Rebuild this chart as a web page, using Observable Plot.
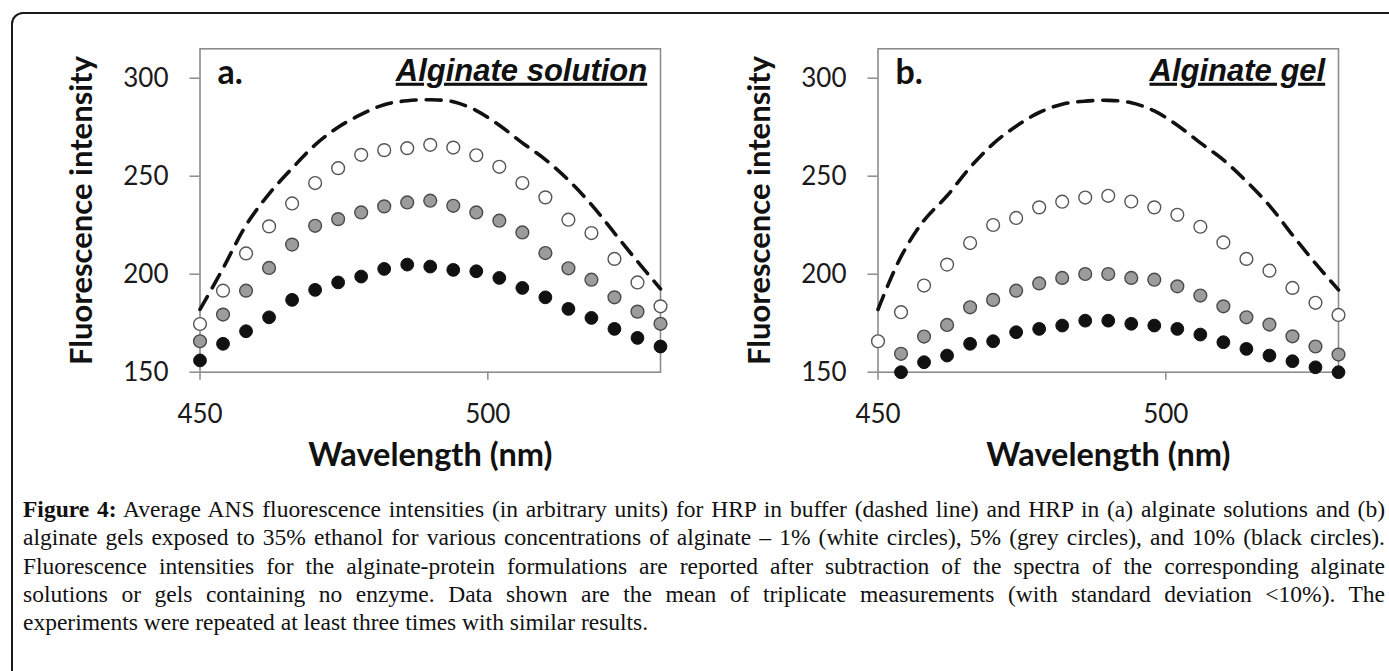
<!DOCTYPE html>
<html><head><meta charset="utf-8">
<script src="https://cdn.jsdelivr.net/npm/d3@7"></script>
<script src="https://cdn.jsdelivr.net/npm/@observablehq/plot@0.6"></script>
<style>
body{margin:0;background:#fff;}
#page{position:relative;width:1389px;height:671px;overflow:hidden;background:#fff;}
#box{position:absolute;left:11px;top:12px;width:1420px;height:720px;border:2px solid #1a1a1a;border-radius:12px;box-sizing:border-box;}
.panel{position:absolute;top:0;}
#caption{position:absolute;left:23px;top:495px;width:1363px;font-family:"Liberation Serif","Times New Roman",serif;font-size:23.5px;line-height:28.35px;color:#111;}
#caption .ln{white-space:nowrap;display:block;}
#caption .ln span.t{display:inline-block;white-space:nowrap;}
</style></head>
<body><div id="page"><div id="box"></div>
<div id="pa" class="panel" style="left:0px"></div>
<div id="pb" class="panel" style="left:678px"></div>
<div id="caption"></div>
</div>
<script>
// ---- data ----
const wavelengths = [450,454,458,462,466,470,474,478,482,486,490,494,498,502,506,510,514,518,522,526,530];
const xTicks = [450, 500];
const yTicks = [150, 200, 250, 300];

// Panel a: alginate solution
const bufferA = [182,203,225,241,254,266,275,281.5,286.5,288.5,289,288,283.5,276,267,258.5,248,235.5,221,206.5,192.5];
const whiteA  = [174.6,191.6,210.6,224.4,236.1,246.5,254.1,260.9,263.3,264.3,266.0,264.6,260.7,254.8,246.5,239.2,227.8,221.0,207.8,195.8,183.6];
const greyA   = [165.8,179.4,191.6,203.2,215.1,224.7,228.1,231.5,234.6,236.6,237.5,234.9,231.5,227.3,221.3,210.8,203.0,197.2,188.2,180.9,174.7];
const blackA  = [156.0,164.5,170.9,178.0,186.9,192.0,195.8,198.8,202.7,204.9,203.9,202.2,201.5,198.1,193.0,188.2,182.3,177.7,172.1,167.5,163.1];

// Panel b: alginate gel
const bufferB = [182,209,227.5,240,254.5,266.5,275.5,282.5,286.7,288.3,288.7,287.5,283.3,276,267,258.3,247.4,235,220,205.5,192];
const whiteB  = [165.8,180.6,194.2,204.9,215.9,225.1,228.7,234.1,237.0,239.1,240.0,237.1,234.1,230.3,224.2,216.2,207.8,201.8,193.0,185.4,179.2];
const greyB   = [null,159.4,168.2,174.1,183.1,186.9,191.6,195.3,198.1,200.1,200.1,198.1,197.2,193.8,189.1,183.6,178.0,174.3,168.3,163.1,159.0];
const blackB  = [null,150.0,155.1,158.5,164.5,165.8,170.4,172.1,173.8,176.3,176.3,174.7,173.8,172.1,169.2,165.3,161.9,158.5,155.6,152.5,150.0];

const yLabel = "Fluorescence intensity";
const xLabel = "Wavelength (nm)";

const captionLines = [
  ["Figure 4:", " Average ANS fluorescence intensities (in arbitrary units) for HRP in buffer (dashed line) and HRP in (a) alginate solutions and (b)"],
  ["", "alginate gels exposed to 35% ethanol for various concentrations of alginate \u2013 1% (white circles), 5% (grey circles), and 10% (black circles)."],
  ["", "Fluorescence intensities for the alginate-protein formulations are reported after subtraction of the spectra of the corresponding alginate"],
  ["", "solutions or gels containing no enzyme. Data shown are the mean of triplicate measurements (with standard deviation <10%). The"],
  ["", "experiments were repeated at least three times with similar results."]
];

function rows(vals) {
  return wavelengths.map((w, i) => ({w, v: vals[i]})).filter(d => d.v != null);
}

function panel(letter, title, buffer, white, grey, black) {
  const svg = Plot.plot({
    width: 680, height: 482,
    marginLeft: 199.5, marginRight: 20, marginTop: 48.3, marginBottom: 110.3,
    x: {domain: [450, 530]},
    y: {domain: [150, 315]},
    style: {fontFamily: "Lato, 'Open Sans', sans-serif", color: "#1a1a1a", background: "transparent", overflow: "visible"},
    marks: [
      Plot.frame({stroke: "#8c8c8c", strokeWidth: 1.6}),
      Plot.axisX({ticks: xTicks, tickSize: 8, tickPadding: 24, fontSize: 26, label: null, stroke: "#8c8c8c", strokeWidth: 1.5, color: "#1a1a1a", tickFormat: d => String(d)}),
      Plot.axisY({ticks: yTicks, tickSize: 10, tickPadding: 21.5, fontSize: 26, label: null, stroke: "#8c8c8c", strokeWidth: 1.5, color: "#1a1a1a", tickFormat: d => String(d)}),
      Plot.line(rows(buffer), {x: "w", y: "v", stroke: "#111", strokeWidth: 3.6, strokeDasharray: "15 10", curve: "catmull-rom"}),
      Plot.dot(rows(black), {x: "w", y: "v", r: 6.4, fill: "#111", stroke: "#111", strokeWidth: 1}),
      Plot.dot(rows(grey), {x: "w", y: "v", r: 6.4, fill: "#9c9c9c", stroke: "#4a4a4a", strokeWidth: 1.4}),
      Plot.dot(rows(white), {x: "w", y: "v", r: 6.4, fill: "#fff", stroke: "#555", strokeWidth: 1.4}),
      Plot.text([yLabel], {text: d => d, frameAnchor: "left", dx: -117.5, rotate: -90, textAnchor: "middle", lineAnchor: "middle", fontSize: 31, fontWeight: "bold", fill: "#111"}),
      Plot.text([xLabel], {text: d => d, frameAnchor: "bottom", dy: 83, textAnchor: "middle", lineAnchor: "middle", fontSize: 32.5, fontWeight: "bold", fill: "#111"}),
      Plot.text([letter], {text: d => d, frameAnchor: "top-left", dx: 17.5, dy: 24.4, textAnchor: "start", lineAnchor: "middle", fontSize: 34, fontWeight: "bold", fill: "#111"}),
      Plot.text([title], {text: d => d, frameAnchor: "top-right", dx: -13.3, dy: 22, textAnchor: "end", lineAnchor: "middle", fontSize: 31, fontWeight: "bold", fontStyle: "italic", fontFamily: "'Liberation Sans', Arial, sans-serif", fill: "#111"})
    ]
  });
  svg.querySelectorAll("text").forEach(t => {
    if (t.textContent === title) {
      t.style.textDecoration = "underline";
      t.style.textDecorationThickness = "3px";
      t.style.textUnderlineOffset = "4px";
    }
  });
  return svg;
}

document.getElementById("pa").appendChild(panel("a.", "Alginate solution", bufferA, whiteA, greyA, blackA));
document.getElementById("pb").appendChild(panel("b.", "Alginate gel", bufferB, whiteB, greyB, blackB));

// caption, each line justified to the full width
const cap = document.getElementById("caption");
const targetW = 1362;
captionLines.forEach((ln, i) => {
  const div = document.createElement("div");
  div.className = "ln";
  const span = document.createElement("span");
  span.className = "t";
  if (ln[0]) { const b = document.createElement("b"); b.textContent = ln[0]; span.appendChild(b); }
  span.appendChild(document.createTextNode(ln[1]));
  div.appendChild(span);
  cap.appendChild(div);
  if (i < captionLines.length - 1) {
    const w = span.getBoundingClientRect().width;
    const spaces = (ln[0] + ln[1]).split(" ").length - 1;
    span.style.wordSpacing = ((targetW - w) / spaces) + "px";
  }
});
</script>
</body></html>
